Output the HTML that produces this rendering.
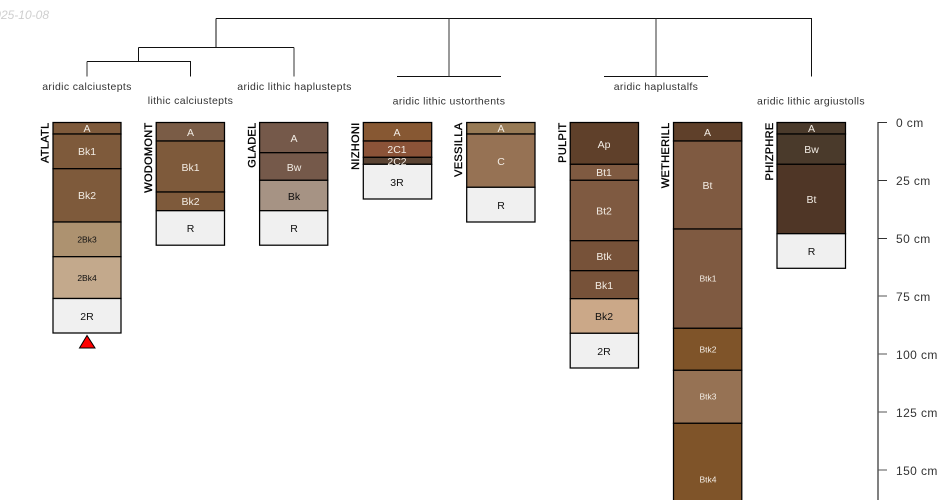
<!DOCTYPE html>
<html>
<head>
<meta charset="utf-8">
<style>
html,body{margin:0;padding:0;background:#fff;width:950px;height:500px;overflow:hidden}
svg{display:block;font-family:"Liberation Sans",sans-serif}
.t{font-size:10.5px;letter-spacing:.35px;text-anchor:middle;fill:#333}
.n{font-size:11px;letter-spacing:.3px;text-anchor:end;fill:#000;stroke:#000;stroke-width:.35}
.h{font-size:10.5px;text-anchor:middle}
.s{font-size:8.5px;text-anchor:middle}
.w{fill:#f2ece4}
.k{fill:#111}
.r{stroke:#000;stroke-width:1.25}
.a{font-size:12px;letter-spacing:.4px;fill:#333}
</style>
</head>
<body>
<svg width="950" height="500" viewBox="0 0 950 500" xmlns="http://www.w3.org/2000/svg">
<text x="49" y="19" font-size="12" font-style="italic" text-anchor="end" fill="#cfcfcf">2025-10-08</text>

<!-- dendrogram -->
<path d="M216 18.500H811.500V76.500M138.500 47.500H294M87 61.500H190.500V76.500M397 76.500H501M604 76.500H708M216 18.500V47.500M138.500 47.500V61.500" stroke="#111" stroke-width="1" fill="none"/>
<path d="M449 18.500V76.500M656 18.500V76.500M294 47.500V76.500M87 61.500V76.500" stroke="#333" stroke-width="1" fill="none"/>

<text class="t" x="87" y="90">aridic calciustepts</text>
<text class="t" x="190.500" y="104">lithic calciustepts</text>
<text class="t" x="294.500" y="90">aridic lithic haplustepts</text>
<text class="t" x="449" y="104.500">aridic lithic ustorthents</text>
<text class="t" x="656" y="90">aridic haplustalfs</text>
<text class="t" x="811" y="104.500">aridic lithic argiustolls</text>

<!-- ATLATL -->
<text class="n" transform="translate(48.500,122.500) rotate(-90)">ATLATL</text>
<g class="r">
<rect x="53" y="122.500" width="68" height="11.500" fill="#7e5a3b"/>
<rect x="53" y="134" width="68" height="34.700" fill="#7e5a3b"/>
<rect x="53" y="168.700" width="68" height="53.300" fill="#7e5a3b"/>
<rect x="53" y="222" width="68" height="34.700" fill="#ad9270"/>
<rect x="53" y="256.700" width="68" height="41.800" fill="#c3a98c"/>
<rect x="53" y="298.500" width="68" height="34.500" fill="#f0f0f0"/>
</g>
<text class="h w" x="87" y="132">A</text>
<text class="h w" x="87" y="155">Bk1</text>
<text class="h w" x="87" y="199">Bk2</text>
<text class="s k" x="87" y="242.500">2Bk3</text>
<text class="s k" x="87" y="281">2Bk4</text>
<text class="h k" x="87" y="320">2R</text>
<polygon points="87,335.500 79.500,348 95,348" fill="#ff0000" stroke="#000" stroke-width="1"/>

<!-- WODOMONT -->
<text class="n" transform="translate(152,122.500) rotate(-90)">WODOMONT</text>
<g class="r">
<rect x="156.200" y="122.500" width="68.300" height="18.500" fill="#7a5c46"/>
<rect x="156.200" y="141" width="68.300" height="51" fill="#7e5a3b"/>
<rect x="156.200" y="192" width="68.300" height="18.700" fill="#7e5a3b"/>
<rect x="156.200" y="210.700" width="68.300" height="34.500" fill="#f0f0f0"/>
</g>
<text class="h w" x="190.500" y="136">A</text>
<text class="h w" x="190.500" y="171">Bk1</text>
<text class="h w" x="190.500" y="205">Bk2</text>
<text class="h k" x="190.500" y="232">R</text>

<!-- GLADEL -->
<text class="n" transform="translate(255.500,122.500) rotate(-90)">GLADEL</text>
<g class="r">
<rect x="259.600" y="122.500" width="68.200" height="30.200" fill="#75594a"/>
<rect x="259.600" y="152.700" width="68.200" height="27.600" fill="#75594a"/>
<rect x="259.600" y="180.300" width="68.200" height="30.400" fill="#a69384"/>
<rect x="259.600" y="210.700" width="68.200" height="34.500" fill="#f0f0f0"/>
</g>
<text class="h w" x="294" y="142">A</text>
<text class="h w" x="294" y="171">Bw</text>
<text class="h k" x="294" y="200">Bk</text>
<text class="h k" x="294" y="232">R</text>

<!-- NIZHONI -->
<text class="n" transform="translate(359,122.500) rotate(-90)">NIZHONI</text>
<g class="r">
<rect x="363.300" y="122.500" width="68.400" height="18.500" fill="#875833"/>
<rect x="363.300" y="141" width="68.400" height="16.300" fill="#8b5338"/>
<rect x="363.300" y="157.300" width="68.400" height="7" fill="#5a4333"/>
<rect x="363.300" y="164.300" width="68.400" height="34.700" fill="#f0f0f0"/>
</g>
<text class="h w" x="397" y="136">A</text>
<text class="h w" x="397" y="153">2C1</text>
<text class="h w" x="397" y="165">2C2</text>
<text class="h k" x="397" y="186">3R</text>

<!-- VESSILLA -->
<text class="n" transform="translate(462,122.500) rotate(-90)">VESSILLA</text>
<g class="r">
<rect x="466.700" y="122.500" width="68.300" height="11.500" fill="#977a55"/>
<rect x="466.700" y="134" width="68.300" height="53.300" fill="#967254"/>
<rect x="466.700" y="187.300" width="68.300" height="34.700" fill="#f0f0f0"/>
</g>
<text class="h w" x="501" y="132">A</text>
<text class="h w" x="501" y="165">C</text>
<text class="h k" x="501" y="209">R</text>

<!-- PULPIT -->
<text class="n" transform="translate(566,122.500) rotate(-90)">PULPIT</text>
<g class="r">
<rect x="570.200" y="122.500" width="68.300" height="41.800" fill="#5f402a"/>
<rect x="570.200" y="164.300" width="68.300" height="16" fill="#7f5a41"/>
<rect x="570.200" y="180.300" width="68.300" height="60.400" fill="#7f5a41"/>
<rect x="570.200" y="240.700" width="68.300" height="30" fill="#775239"/>
<rect x="570.200" y="270.700" width="68.300" height="28" fill="#775239"/>
<rect x="570.200" y="298.700" width="68.300" height="34.600" fill="#cba888"/>
<rect x="570.200" y="333.300" width="68.300" height="34.700" fill="#f0f0f0"/>
</g>
<text class="h w" x="604" y="148">Ap</text>
<text class="h w" x="604" y="176">Bt1</text>
<text class="h w" x="604" y="214.500">Bt2</text>
<text class="h w" x="604" y="260">Btk</text>
<text class="h w" x="604" y="289">Bk1</text>
<text class="h k" x="604" y="320">Bk2</text>
<text class="h k" x="604" y="355">2R</text>

<!-- WETHERILL -->
<text class="n" transform="translate(669,122.500) rotate(-90)">WETHERILL</text>
<g class="r">
<rect x="673.500" y="122.500" width="68.300" height="18.500" fill="#5f402a"/>
<rect x="673.500" y="141" width="68.300" height="88" fill="#7f5a41"/>
<rect x="673.500" y="229" width="68.300" height="99.300" fill="#7f5a41"/>
<rect x="673.500" y="328.300" width="68.300" height="42" fill="#7f5429"/>
<rect x="673.500" y="370.300" width="68.300" height="53" fill="#967254"/>
<rect x="673.500" y="423.300" width="68.300" height="100" fill="#7f5429"/>
</g>
<text class="h w" x="707.500" y="136">A</text>
<text class="h w" x="707.500" y="189">Bt</text>
<text class="s w" x="708" y="281.500">Btk1</text>
<text class="s w" x="708" y="352.500">Btk2</text>
<text class="s w" x="708" y="399.500">Btk3</text>
<text class="s w" x="708" y="482.500">Btk4</text>

<!-- PHIZPHRE -->
<text class="n" transform="translate(773,122.500) rotate(-90)">PHIZPHRE</text>
<g class="r">
<rect x="777" y="122.500" width="68.500" height="11.500" fill="#4a3a2b"/>
<rect x="777" y="134" width="68.500" height="30.300" fill="#4a3a2b"/>
<rect x="777" y="164.300" width="68.500" height="69.400" fill="#4f3626"/>
<rect x="777" y="233.700" width="68.500" height="34.600" fill="#f0f0f0"/>
</g>
<text class="h w" x="811.500" y="132">A</text>
<text class="h w" x="811.500" y="153">Bw</text>
<text class="h w" x="811.500" y="203">Bt</text>
<text class="h k" x="811.500" y="255">R</text>

<!-- depth axis -->
<path d="M878 122V500" stroke="#808080" stroke-width="2" fill="none"/>
<path d="M878 122.500H887M878 180.500H887M878 238.500H887" stroke="#333" stroke-width="1" fill="none"/>
<path d="M878 296H887M878 354H887M878 412H887M878 470H887" stroke="#555" stroke-width="1" fill="none"/>
<text class="a" x="896" y="127">0 cm</text>
<text class="a" x="896" y="185">25 cm</text>
<text class="a" x="896" y="243">50 cm</text>
<text class="a" x="896" y="301">75 cm</text>
<text class="a" x="896" y="359">100 cm</text>
<text class="a" x="896" y="417">125 cm</text>
<text class="a" x="896" y="475">150 cm</text>
</svg>
</body>
</html>
